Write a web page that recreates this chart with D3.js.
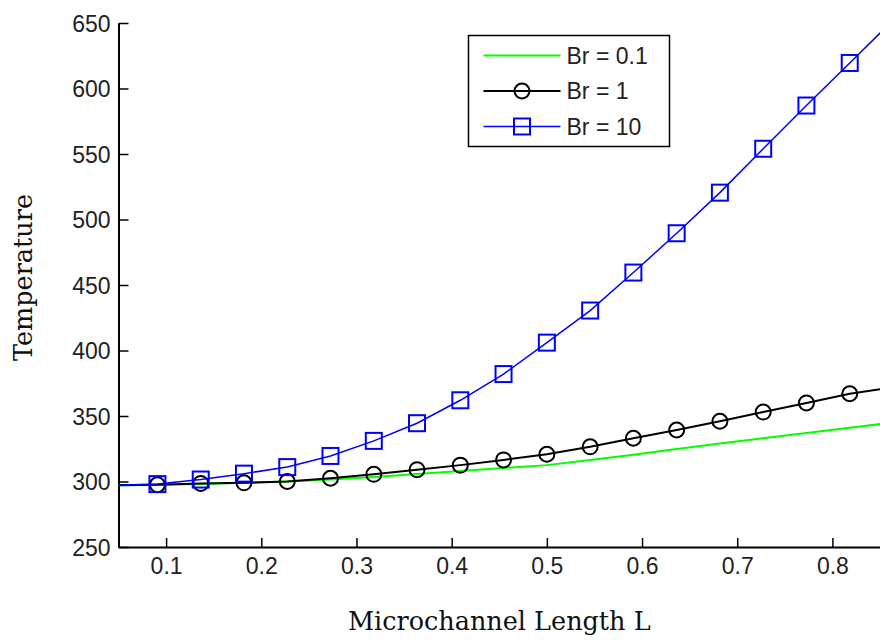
<!DOCTYPE html>
<html>
<head>
<meta charset="utf-8">
<script src="https://cdnjs.cloudflare.com/ajax/libs/d3/7.8.5/d3.min.js"></script>
<style>
    body { margin: 0; background: #fff; }
</style>
</head>
<body>
<script>
const width = 880;
const height = 640;

// microchannel length L (data grid)
const lengthL = [0.0455, 0.0909, 0.1364, 0.1818, 0.2273, 0.2727, 0.3182, 0.3636, 0.4091, 0.4545,
    0.5, 0.5455, 0.5909, 0.6364, 0.6818, 0.7273, 0.7727, 0.8182, 0.8636];
// temperature for each Brinkman number
const tempBr01 = [297, 297.5, 298, 299, 300, 301.5, 303.5, 305.7, 308, 310.3,
    312.5, 316.5, 320.5, 324.8, 329, 333, 337, 341, 345];
const tempBr1 = [297, 297.5, 298.5, 299, 300, 302.5, 305.5, 309, 312.5, 316.5,
    320.8, 326.5, 333, 339.3, 346, 353, 360, 367, 372];
const tempBr10 = [297, 298, 301.5, 306, 311, 319.5, 331, 344.5, 362, 382,
    406, 430.5, 459.5, 489.5, 520.5, 554, 587, 619.5, 652];

const xTicks = [0.1, 0.2, 0.3, 0.4, 0.5, 0.6, 0.7, 0.8];
const yTicks = [250, 300, 350, 400, 450, 500, 550, 600, 650];
const legendNames = ["Br = 0.1", "Br = 1", "Br = 10"];

const series = [
    {name: legendNames[0], values: tempBr01, color: "#00ff00", width: 2, marker: "none"},
    {name: legendNames[1], values: tempBr1, color: "#000000", width: 2, marker: "circle"},
    {name: legendNames[2], values: tempBr10, color: "#0000ff", width: 1.5, marker: "square"}
];

const margin = {left: 118.5, top: 23, right: 0, bottom: 93};

let svg = d3.select("body").append("svg")
    .attr("width", width)
    .attr("height", height)
    .style("display", "block")

let x = d3.scaleLinear()
    .domain([0.05, 0.85])
    .range([margin.left, width - margin.right]);

let y = d3.scaleLinear()
    .domain([250, 650])
    .range([height - margin.bottom, margin.top]);

svg.append("clipPath")
    .attr("id", "plotClip")
    .append("rect")
    .attr("x", x(0.05))
    .attr("y", y(650))
    .attr("width", x(0.85) - x(0.05))
    .attr("height", y(250) - y(650));

// axes, ticks pointing inward
let xAxis = svg.append("g")
    .attr("transform", "translate(0," + y(250) + ")")
    .call(d3.axisBottom(x).tickValues(xTicks).tickSizeInner(-9).tickSizeOuter(0).tickPadding(11)
        .tickFormat(d3.format(".1f")));

let yAxis = svg.append("g")
    .attr("transform", "translate(" + x(0.05) + ",0)")
    .call(d3.axisLeft(y).tickValues(yTicks).tickSizeInner(-10).tickSizeOuter(0).tickPadding(18));

[xAxis, yAxis].forEach(function (g) {
    g.select(".domain").attr("stroke", "#000").attr("stroke-width", 2);
    g.selectAll(".tick line").attr("stroke", "#000").attr("stroke-width", 1.5);
    g.selectAll(".tick text")
        .attr("fill", "#222")
        .attr("font-family", "'Liberation Sans', Arial, sans-serif")
        .attr("font-size", 23);
});
yAxis.selectAll(".tick text").attr("x", -8).attr("dy", "0.36em");

// axis titles
svg.append("text")
    .attr("x", (x(0.05) + x(0.85)) / 2)
    .attr("y", 630)
    .attr("text-anchor", "middle")
    .attr("font-family", "'DejaVu Serif', serif")
    .attr("font-size", 25.5)
    .attr("fill", "#111")
    .text("Microchannel Length L")

svg.append("text")
    .attr("transform", "translate(32,277.5)rotate(-90)")
    .attr("text-anchor", "middle")
    .attr("font-family", "'DejaVu Serif', serif")
    .attr("font-size", 25.5)
    .attr("fill", "#111")
    .text("Temperature")

let plotG = svg.append("g")
    .attr("clip-path", "url(#plotClip)")

let line = d3.line()
    .x(function (d) { return x(d[0]); })
    .y(function (d) { return y(d[1]); });

function drawMarker(g, type, cx, cy, color) {
    if (type === "circle") {
        g.append("circle")
            .attr("cx", cx)
            .attr("cy", cy)
            .attr("r", 7.5)
            .attr("fill", "none")
            .attr("stroke", color)
            .attr("stroke-width", 2);
    } else if (type === "square") {
        g.append("rect")
            .attr("x", cx - 8)
            .attr("y", cy - 8)
            .attr("width", 16)
            .attr("height", 16)
            .attr("fill", "none")
            .attr("stroke", color)
            .attr("stroke-width", 2);
    }
}

series.forEach(function (s) {
    let pts = lengthL.map(function (l, i) { return [l, s.values[i]]; });
    plotG.append("path")
        .attr("d", line(pts))
        .attr("fill", "none")
        .attr("stroke", s.color)
        .attr("stroke-width", s.width);
    let mg = plotG.append("g");
    pts.forEach(function (p) {
        //only data points inside the axis limits get a marker
        if (p[0] >= 0.05 && p[0] <= 0.85) {
            drawMarker(mg, s.marker, x(p[0]), y(p[1]), s.color);
        }
    });
});

// legend
let legend = svg.append("g")
    .attr("transform", "translate(468.5,35.5)")

legend.append("rect")
    .attr("width", 201)
    .attr("height", 111)
    .attr("fill", "#fff")
    .attr("stroke", "#000")
    .attr("stroke-width", 1.5)

series.forEach(function (s, i) {
    let ly = 20 + i * 35.5;
    legend.append("line")
        .attr("x1", 15)
        .attr("x2", 92)
        .attr("y1", ly)
        .attr("y2", ly)
        .attr("stroke", s.color)
        .attr("stroke-width", s.width);
    drawMarker(legend, s.marker, 53.5, ly, s.color);
    legend.append("text")
        .attr("x", 98)
        .attr("y", ly)
        .attr("dy", "0.36em")
        .attr("font-family", "'Liberation Sans', Arial, sans-serif")
        .attr("font-size", 23)
        .attr("fill", "#222")
        .text(s.name)
});
</script>
</body>
</html>
